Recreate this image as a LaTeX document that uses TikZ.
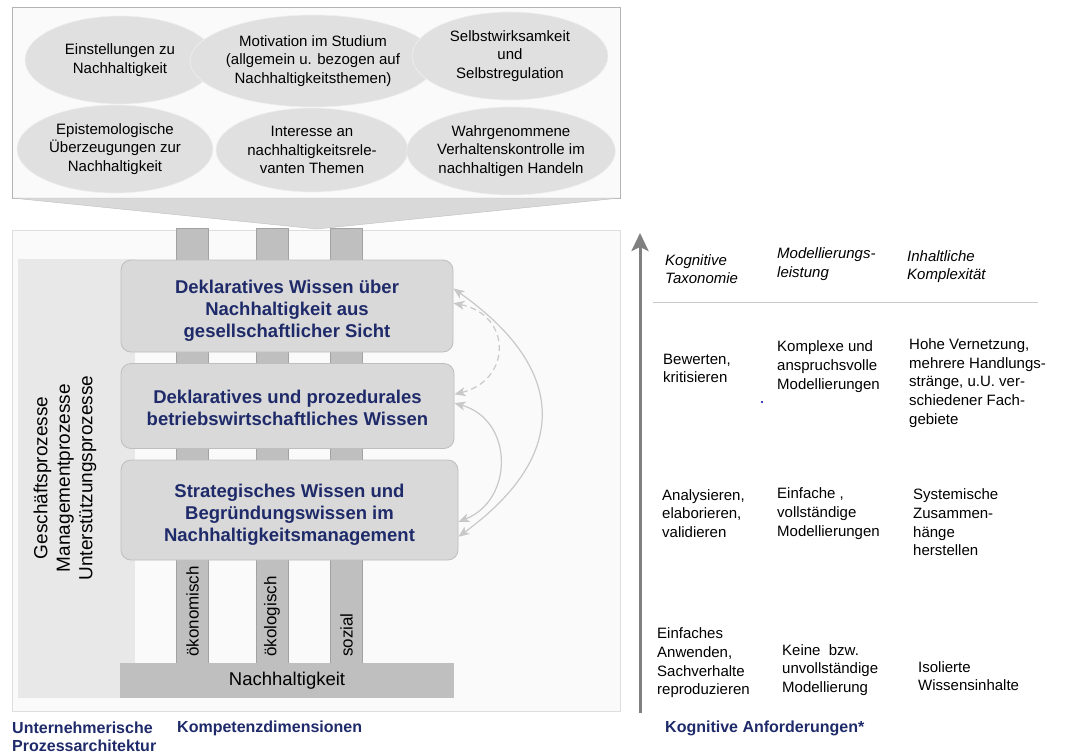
\documentclass[tikz,border=0pt]{standalone}
\usepackage{fontspec}
\setmainfont{Liberation Sans}
\usetikzlibrary{shapes.geometric,arrows.meta}
\definecolor{navytext}{RGB}{30,42,105}
\definecolor{paper}{RGB}{250,250,250}
\definecolor{frame}{RGB}{200,200,200}
\definecolor{ovalgray}{RGB}{224,224,224}
\definecolor{boxgray}{RGB}{217,217,217}
\definecolor{boxedge}{RGB}{190,190,190}
\definecolor{pillargray}{RGB}{191,191,191}
\definecolor{panelgray}{RGB}{232,232,232}
\definecolor{arcgray}{RGB}{200,200,200}
\definecolor{axisgray}{RGB}{128,128,128}
\newcommand{\liftline}[1]{\rule{0pt}{#1}}

\begin{document}
\begin{tikzpicture}[
    x=1pt, y=-1pt,
    every node/.style={inner sep=0pt, align=center},
    oval/.style={ellipse, fill=ovalgray, draw=ovalgray!50!white, line width=0.6pt,
      font=\fontsize{15}{18.5}\selectfont},
    kbox/.style={rectangle, rounded corners=10pt, fill=boxgray, draw=boxedge, line width=0.8pt,
      text=navytext, font=\bfseries\fontsize{18.5}{22}\selectfont},
    pillar/.style={fill=pillargray, draw=pillargray!85!black, line width=0.5pt},
    plab/.style={rotate=90, anchor=west, font=\fontsize{17}{20}\selectfont},
    cell/.style={anchor=west, align=left, font=\fontsize{15}{18.7}\selectfont},
    head/.style={cell, font=\itshape\fontsize{15}{18.7}\selectfont},
    caption/.style={anchor=west, align=left, text=navytext, font=\bfseries\fontsize{16}{18}\selectfont},
    link/.style={draw=arcgray, line width=1.2pt, >={Stealth[length=11pt,width=9pt,inset=3pt]}, <->}
  ]
  \useasboundingbox (0,0) rectangle (1068,753);

  % upper panel: motivational factors
  \draw[fill=paper, draw=frame!90!black] (12,7) rectangle (620,198);
  \draw[fill=boxgray, draw=boxedge] (12,198) -- (620,198) -- (317,229) -- cycle;
  \node (e1) [oval, minimum width=190pt, minimum height=88pt] at (120,60) {Einstellungen zu\\Nachhaltigkeit};
  \node (e2) [oval, minimum width=200pt, minimum height=92pt] at (313,61) {Motivation im Studium\\(allgemein u. bezogen auf\\Nachhaltigkeitsthemen)};
  \node (e3) [oval, minimum width=196pt, minimum height=88pt] at (510,56) {Selbstwirksamkeit\\und\\Selbstregulation};
  \node (e4) [oval, minimum width=196pt, minimum height=88pt] at (115,149) {Epistemologische\\Überzeugungen zur\\Nachhaltigkeit};
  \node (e5) [oval, minimum width=192pt, minimum height=84pt] at (312,150) {Interesse an\\nachhaltigkeitsrele-\\vanten Themen};
  \node (e6) [oval, minimum width=196pt, minimum height=88pt] at (511,151) {Wahrgenommene\\Verhaltenskontrolle im\\nachhaltigen Handeln};

  % lower panel: competence model
  \draw[fill=paper, draw=frame!60!white] (12,230) rectangle (620,711);
  \fill[panelgray] (18,259) rectangle (135,698);
  \node (proc) [rotate=90, font=\fontsize{19}{22.5}\selectfont] at (65,478)
    {Geschäftsprozesse\\Managementprozesse\\Unterstützungsprozesse};

  \foreach \px/\pname [count=\i] in {192.5/ökonomisch, 272/ökologisch, 346.5/sozial}{
    \draw[pillar] (\px-16,228) rectangle (\px+16,663);
    \node (dim\i) [plab] at (\px,657) {\pname};
  }
  \node (base) [fill=pillargray, minimum width=334pt, minimum height=35pt,
    font=\fontsize{18.5}{22}\selectfont] at (287,680.5) {Nachhaltigkeit};

  \node (b1) [kbox, minimum width=332pt, minimum height=92pt] at (287,306)
    {\liftline{23pt}Deklaratives Wissen über\\Nachhaltigkeit aus\\gesellschaftlicher Sicht};
  \node (b2) [kbox, minimum width=333pt, minimum height=85pt] at (287.5,406)
    {\liftline{17.5pt}Deklaratives und prozedurales\\betriebswirtschaftliches Wissen};
  \node (b3) [kbox, minimum width=337pt, minimum height=100pt] at (289.5,510)
    {\liftline{23pt}Strategisches Wissen und\\Begründungswissen im\\Nachhaltigkeitsmanagement};

  \draw[link] (b1.6) .. controls (569,370) and (569,456) .. (b3.351);
  \draw[link, dash pattern=on 6pt off 4pt] (b1.1) .. controls (512,315) and (512,380) .. (b2.4);
  \draw[link] (b2.1) .. controls (514,420) and (514,500) .. (b3.356);

  \node (cap1) [caption] at (12,737) {Unternehmerische\\Prozessarchitektur};
  \node (cap2) [caption] at (177,728) {Kompetenzdimensionen};

  % right part: cognitive requirements
  \coordinate (ybot) at (640,713);
  \coordinate (ytop) at (640,233);
  \draw[axisgray, line width=3pt, -{Stealth[length=18pt,width=17pt,inset=4pt]}] (ybot) -- (ytop);
  \draw[frame, line width=0.8pt] (653,302) -- (1038,302);

  \node (h1) [head] at (665,269) {Kognitive\\Taxonomie};
  \node (h2) [head] at (777,264) {Modellierungs-\\leistung};
  \node (h3) [head] at (907,266.5) {Inhaltliche\\Komplexität};

  \node (r1a) [cell] at (663,368.5) {Bewerten,\\kritisieren};
  \node (r1b) [cell] at (777,366.5) {Komplexe und\\anspruchsvolle\\Modellierungen};
  \node (r1c) [cell] at (909,383) {Hohe Vernetzung,\\mehrere Handlungs-\\stränge, u.U. ver-\\schiedener Fach-\\gebiete};
  \fill[blue!70!black] (762,402) circle (1.2pt);

  \node (r2a) [cell] at (662,513.5) {Analysieren,\\elaborieren,\\validieren};
  \node (r2b) [cell] at (777,513.5) {Einfache ,\\vollständige\\Modellierungen};
  \node (r2c) [cell] at (913,522.5) {Systemische\\Zusammen-\\hänge\\herstellen};

  \node (r3a) [cell] at (657,663) {Einfaches\\Anwenden,\\Sachverhalte\\reproduzieren};
  \node (r3b) [cell] at (782,670) {Keine\ \ bzw.\\unvollständige\\Modellierung};
  \node (r3c) [cell] at (918,676) {Isolierte\\Wissensinhalte};

  \node (cap3) [caption] at (665,728) {Kognitive Anforderungen*};
\end{tikzpicture}
\end{document}
